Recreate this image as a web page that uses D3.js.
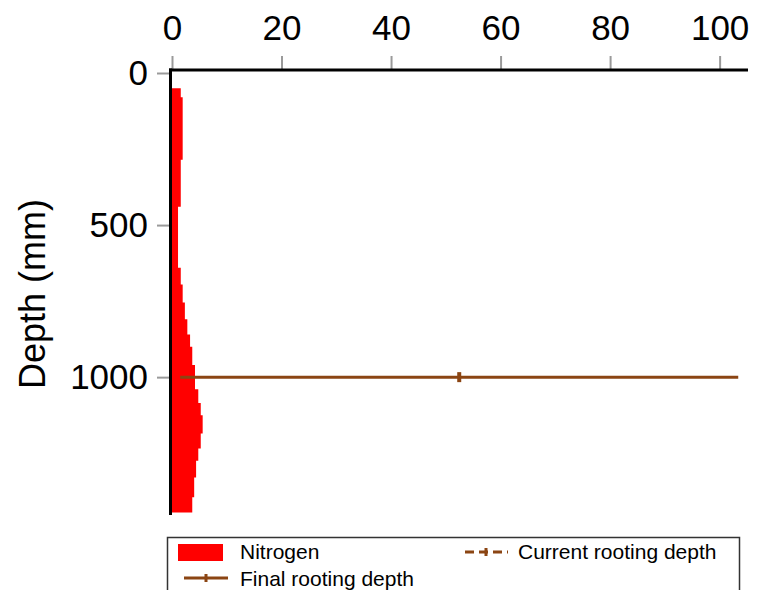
<!DOCTYPE html>
<html>
<head>
<meta charset="utf-8">
<script src="https://cdn.jsdelivr.net/npm/d3@7"></script>
<style>
  html, body { margin: 0; padding: 0; background: #fff; }
  svg { display: block; font-family: "Liberation Sans", Arial, sans-serif; }
</style>
</head>
<body>
<svg id="chart" width="765" height="590"></svg>
<script>
// Soil layers: top depth of each layer (mm) and nitrogen in that layer
const layerTop = [50, 80, 285, 440, 640, 695, 755, 810, 860, 900, 960, 1040, 1085, 1125, 1185, 1235, 1275, 1330, 1395];
const profileBottom = 1445;
const nitrogen = [1.6, 1.95, 1.6, 1.1, 1.6, 1.95, 2.35, 2.8, 3.3, 3.7, 4.2, 4.8, 5.25, 5.6, 5.25, 4.8, 4.4, 4.05, 3.7];

// Rooting depth lines
const finalRootDepth = 1000;
const finalRootX = [1.5, 103.4];

// Axis ticks
const xTicks = [0, 20, 40, 60, 80, 100];
const yTicks = [0, 500, 1000];

const legendNames = ["Nitrogen", "Current rooting depth", "Final rooting depth"];

const brown = "#8B4513";
const svg = d3.select("#chart");

const x = d3.scaleLinear().domain([0, 105]).range([172, 747]);
const y = d3.scaleLinear().domain([0, 1450]).range([73, 514]);

// Nitrogen profile as a stepped area hanging from the depth axis
const pts = layerTop.map((d, i) => ({ depth: d, n: nitrogen[i] }));
pts.push({ depth: profileBottom, n: nitrogen[nitrogen.length - 1] });
const area = d3.area()
  .y(d => y(d.depth))
  .x0(x(0))
  .x1(d => x(d.n))
  .curve(d3.curveStepBefore);
svg.append("path").datum(pts)
  .attr("d", area)
  .attr("fill", "#ff0000");

// Final rooting depth line with a marker at its midpoint
svg.append("line")
  .attr("x1", x(finalRootX[0])).attr("x2", x(finalRootX[1]))
  .attr("y1", y(finalRootDepth)).attr("y2", y(finalRootDepth))
  .attr("stroke", brown).attr("stroke-width", 3);
const midX = x(d3.mean(finalRootX));
svg.append("rect")
  .attr("x", midX - 2).attr("y", y(finalRootDepth) - 5)
  .attr("width", 4).attr("height", 10)
  .attr("fill", brown);

// Top axis
const xAxis = d3.axisTop(x).tickValues(xTicks).tickSize(14).tickPadding(16).tickFormat(d3.format("d"));
const gx = svg.append("g").attr("transform", "translate(0,70)").call(xAxis);
gx.select(".domain").remove();
gx.selectAll(".tick line").attr("stroke", "#9a9a9a").attr("stroke-width", 2);
gx.selectAll(".tick text").attr("font-size", 35).attr("fill", "#000")
  .attr("font-family", "Liberation Sans, Arial, sans-serif");
svg.append("line").attr("x1", 169).attr("x2", 748).attr("y1", 70).attr("y2", 70)
  .attr("stroke", "#000").attr("stroke-width", 3);

// Left axis
const yAxis = d3.axisLeft(y).tickValues(yTicks).tickSize(14).tickPadding(9).tickFormat(d3.format("d"));
const gy = svg.append("g").attr("transform", "translate(171,0)").call(yAxis);
gy.select(".domain").remove();
gy.selectAll(".tick line").attr("stroke", "#9a9a9a").attr("stroke-width", 2);
gy.selectAll(".tick text").attr("font-size", 35).attr("fill", "#000")
  .attr("font-family", "Liberation Sans, Arial, sans-serif");
svg.append("line").attr("x1", 170.5).attr("x2", 170.5).attr("y1", 68.5).attr("y2", 515)
  .attr("stroke", "#000").attr("stroke-width", 3);

// Y axis title
svg.append("text")
  .attr("transform", "translate(45,294) rotate(-90)")
  .attr("text-anchor", "middle")
  .attr("font-size", 36)
  .text("Depth (mm)");

// Legend
const lg = svg.append("g");
lg.append("rect").attr("x", 167.5).attr("y", 537.5).attr("width", 572).attr("height", 70)
  .attr("fill", "#fff").attr("stroke", "#333").attr("stroke-width", 1.5);
lg.append("rect").attr("x", 178).attr("y", 544).attr("width", 45).attr("height", 17).attr("fill", "#ff0000");
lg.append("text").attr("x", 240).attr("y", 559).attr("font-size", 21).text(legendNames[0]);

lg.append("line").attr("x1", 465).attr("x2", 508).attr("y1", 552).attr("y2", 552)
  .attr("stroke", brown).attr("stroke-width", 3).attr("stroke-dasharray", "9,5");
lg.append("rect").attr("x", 484.5).attr("y", 548).attr("width", 3).attr("height", 8).attr("fill", brown);
lg.append("text").attr("x", 518).attr("y", 559).attr("font-size", 21).text(legendNames[1]);

lg.append("line").attr("x1", 184).attr("x2", 228).attr("y1", 578).attr("y2", 578)
  .attr("stroke", brown).attr("stroke-width", 3);
lg.append("rect").attr("x", 204.5).attr("y", 574).attr("width", 3).attr("height", 8).attr("fill", brown);
lg.append("text").attr("x", 240).attr("y", 586).attr("font-size", 21).text(legendNames[2]);
</script>
</body>
</html>
